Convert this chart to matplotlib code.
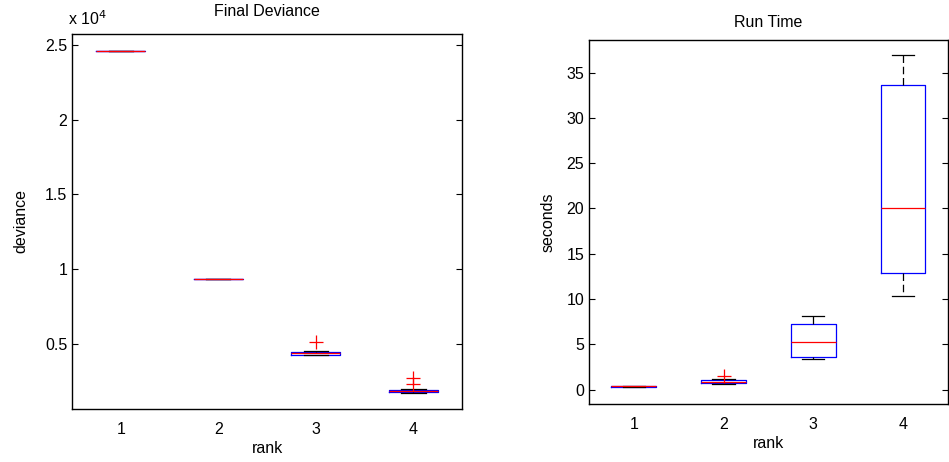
import matplotlib
matplotlib.use("Agg")
import matplotlib.pyplot as plt

plt.rcParams['font.family'] = ['Liberation Sans', 'DejaVu Sans']
plt.rcParams['font.size'] = 11.5

ranks = ['1', '2', '3', '4']

# Final deviance (units of 1e4)
dev_q1 = [2.458, 0.9345, 0.430, 0.183]
dev_med = [2.460, 0.935, 0.437, 0.187]
dev_q3 = [2.461, 0.9355, 0.447, 0.193]
dev_lo = [2.458, 0.9345, 0.428, 0.170]
dev_hi = [2.461, 0.9355, 0.452, 0.197]
dev_fliers = [[], [], [0.515], [0.230, 0.275]]

# Run time (seconds)
rt_q1 = [0.30, 0.75, 3.6, 12.9]
rt_med = [0.35, 0.85, 5.3, 20.1]
rt_q3 = [0.40, 1.10, 7.2, 33.6]
rt_lo = [0.28, 0.65, 3.4, 10.3]
rt_hi = [0.42, 1.15, 8.1, 36.9]
rt_fliers = [[], [1.5], [], []]


def stats(q1, med, q3, lo, hi, fl):
    out = []
    for i in range(len(q1)):
        out.append(dict(q1=q1[i], med=med[i], q3=q3[i], whislo=lo[i],
                        whishi=hi[i], fliers=fl[i], label=ranks[i]))
    return out


fig = plt.figure(figsize=(9.49, 4.62), dpi=100)
ax1 = fig.add_axes([0.0759, 0.1147, 0.411, 0.812])
ax2 = fig.add_axes([0.6207, 0.1255, 0.378, 0.788])

kw = dict(widths=0.5,
          boxprops=dict(color='blue', linewidth=0.9),
          medianprops=dict(color='red', linewidth=0.9, zorder=4),
          whiskerprops=dict(color='black', linestyle=(0, (6, 3)), linewidth=0.9),
          capprops=dict(color='black', linewidth=0.9),
          flierprops=dict(marker='+', markeredgecolor='red', markersize=10,
                          markeredgewidth=0.9, linestyle='none'))

ax1.bxp(stats(dev_q1, dev_med, dev_q3, dev_lo, dev_hi, dev_fliers), **kw)
ax2.bxp(stats(rt_q1, rt_med, rt_q3, rt_lo, rt_hi, rt_fliers), **kw)

for ax in (ax1, ax2):
    ax.set_xlim(0.5, 4.5)
    ax.set_xticks([1, 2, 3, 4])
    ax.set_xticklabels(ranks)
    ax.tick_params(axis='x', length=0, pad=9)
    ax.tick_params(axis='y', direction='in', length=4, right=True, width=0.8)
    ax.set_xlabel('rank', labelpad=3)
    for s in ax.spines.values():
        s.set_linewidth(1.0)

ax1.set_ylim(0.066, 2.573)
ax1.set_yticks([0.5, 1, 1.5, 2, 2.5])
ax1.set_yticklabels(['0.5', '1', '1.5', '2', '2.5'])
ax1.set_ylabel('deviance', labelpad=12)
ax1.set_title('Final Deviance', fontsize=11.5, pad=13)
ax1.text(-0.01, 1.015, r'x 10$^{4}$', transform=ax1.transAxes, ha='left', va='bottom',
         fontsize=11.5)

ax2.set_ylim(-1.6, 38.6)
ax2.set_yticks([0, 5, 10, 15, 20, 25, 30, 35])
ax2.set_ylabel('seconds', labelpad=8)
ax2.set_title('Run Time', fontsize=11.5, pad=9)

fig.savefig('out.png', dpi=100)
